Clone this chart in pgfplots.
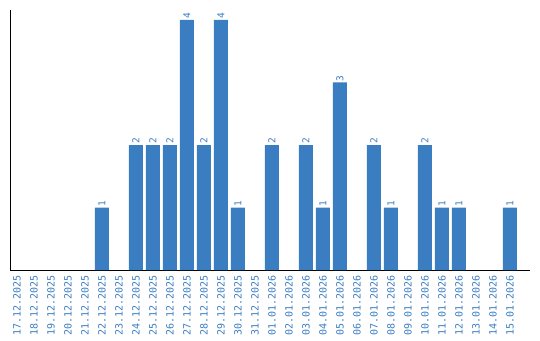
\documentclass[border=0pt]{standalone}
\usepackage{pgfplots}
\pgfplotsset{compat=1.18}
\usepackage{fontspec}
\setmainfont{DejaVu Sans Mono}
\definecolor{barblue}{HTML}{3B7DC1}
\begin{document}
\begin{tikzpicture}
\useasboundingbox (-10.5pt,-70pt) rectangle (529.5pt,270pt);
\begin{axis}[
  at={(0,0)}, anchor=south west,
  scale only axis, width=519.5pt, height=260pt,
  axis x line=bottom, axis y line=left,
  axis line style={-, black, line width=0.8pt},
  xmin=-0.38, xmax=30.18, ymin=0, ymax=4.16,
  ytick=\empty,
  xtick={0,...,29},
  xticklabels={17.12.2025,18.12.2025,19.12.2025,20.12.2025,21.12.2025,22.12.2025,23.12.2025,24.12.2025,25.12.2025,26.12.2025,27.12.2025,28.12.2025,29.12.2025,30.12.2025,31.12.2025,01.01.2026,02.01.2026,03.01.2026,04.01.2026,05.01.2026,06.01.2026,07.01.2026,08.01.2026,09.01.2026,10.01.2026,11.01.2026,12.01.2026,13.01.2026,14.01.2026,15.01.2026},
  x tick label style={rotate=90, anchor=east, font=\fontsize{10}{10}\selectfont, text=barblue, inner sep=0pt},
  major tick length=0pt,
  tick style={draw=none},
  xticklabel shift=5pt,
  ybar, bar width=14pt,
  nodes near coords,
  every node near coord/.append style={rotate=90, anchor=west, font=\fontsize{9.5}{9.5}\selectfont, text=barblue, inner sep=1pt},
  /pgf/number format/assume math mode=true,
]
\addplot[fill=barblue, draw=none] coordinates {
 (5,1) (7,2) (8,2) (9,2) (10,4) (11,2) (12,4) (13,1)
 (15,2) (17,2) (18,1) (19,3) (21,2) (22,1) (24,2) (25,1) (26,1) (29,1)
};
\end{axis}
\end{tikzpicture}
\end{document}
